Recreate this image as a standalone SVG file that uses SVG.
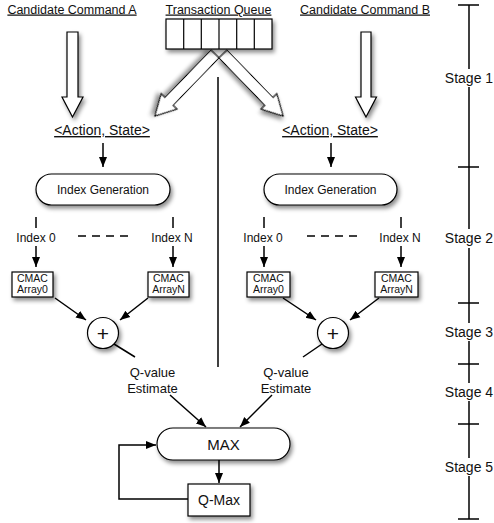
<svg xmlns="http://www.w3.org/2000/svg" width="494" height="523" viewBox="0 0 494 523">
<defs>
<filter id="sh" x="-30%" y="-30%" width="160%" height="160%">
<feDropShadow dx="2" dy="3" stdDeviation="2" flood-color="#000" flood-opacity="0.45"/>
</filter>
<marker id="ah" markerWidth="10" markerHeight="10" refX="10" refY="5" orient="auto" markerUnits="userSpaceOnUse">
<path d="M0,1 L10,5 L0,9 z" fill="#000"/>
</marker>
</defs>
<style>
text{font-family:"Liberation Sans",Arial,sans-serif;fill:#111}
.t{font-size:12.5px;text-decoration:underline}
.as{font-size:14px;text-decoration:underline}
.st{font-size:14px}
.ig{font-size:12px}
.ix{font-size:12px}
.cm{font-size:10.5px}
.qv{font-size:13px}
.pl{font-size:21px}
.shp{fill:#fff;stroke:#000;stroke-width:1.2;filter:url(#sh)}
.ln{stroke:#000;stroke-width:1.5;fill:none}
.ar{stroke:#000;stroke-width:1.5;fill:none;marker-end:url(#ah)}
</style>
<rect width="494" height="523" fill="#fff"/>

<g id="labels">
<text class="t" x="72" y="13.5" text-anchor="middle">Candidate Command A</text>
<text class="t" x="218.5" y="13.5" text-anchor="middle">Transaction Queue</text>
<text class="t" x="365" y="13.5" text-anchor="middle">Candidate Command B</text>
</g>

<g id="bigArrows">
<polygon class="shp" points="67,32 78,32 78,97 83,97 72.5,117 62,97 67,97"/>
<polygon class="shp" points="361,32 371,32 371,97 376.5,97 366,117 355.5,97 361,97"/>
<polygon class="shp" transform="translate(215,54) rotate(134.1)" points="0,-5.5 66,-5.5 66,-11 86.3,0 66,11 66,5.5 0,5.5"/>
<polygon class="shp" transform="translate(223,54) rotate(45.9)" points="0,-5.5 66,-5.5 66,-11 86.3,0 66,11 66,5.5 0,5.5"/>
</g>

<g id="queue">
<rect class="shp" x="166" y="19" width="106" height="30"/>
<g class="ln" style="stroke-width:1.2">
<line x1="183.7" y1="19" x2="183.7" y2="49"/>
<line x1="201.3" y1="19" x2="201.3" y2="49"/>
<line x1="219" y1="19" x2="219" y2="49"/>
<line x1="236.7" y1="19" x2="236.7" y2="49"/>
<line x1="254.3" y1="19" x2="254.3" y2="49"/>
</g>
</g>

<g id="actionA"><text class="as" x="102" y="135" text-anchor="middle">&lt;Action, State&gt;</text></g>
<g id="actionB"><text class="as" x="330" y="135" text-anchor="middle">&lt;Action, State&gt;</text></g>

<g id="indexGenA">
<rect class="shp" x="36" y="174" width="134" height="31" rx="15.5"/>
<text class="ig" x="103" y="194" text-anchor="middle">Index Generation</text>
</g>
<g id="indexGenB">
<rect class="shp" x="264" y="174" width="133" height="31" rx="15.5"/>
<text class="ig" x="330.5" y="194" text-anchor="middle">Index Generation</text>
</g>

<g id="indexLabels">
<text class="ix" x="36" y="242" text-anchor="middle">Index 0</text>
<text class="ix" x="172" y="242" text-anchor="middle">Index N</text>
<text class="ix" x="263" y="242" text-anchor="middle">Index 0</text>
<text class="ix" x="400" y="242" text-anchor="middle">Index N</text>
</g>

<g id="cmacA0"><rect class="shp" x="12" y="272" width="41" height="25"/>
<text class="cm" x="32.5" y="282" text-anchor="middle">CMAC</text><text class="cm" x="32.5" y="293" text-anchor="middle">Array0</text></g>
<g id="cmacAN"><rect class="shp" x="148" y="272" width="41" height="25"/>
<text class="cm" x="168.5" y="282" text-anchor="middle">CMAC</text><text class="cm" x="168.5" y="293" text-anchor="middle">ArrayN</text></g>
<g id="cmacB0"><rect class="shp" x="247" y="272" width="43" height="25"/>
<text class="cm" x="268.5" y="282" text-anchor="middle">CMAC</text><text class="cm" x="268.5" y="293" text-anchor="middle">Array0</text></g>
<g id="cmacBN"><rect class="shp" x="375" y="272" width="43" height="25"/>
<text class="cm" x="396.5" y="282" text-anchor="middle">CMAC</text><text class="cm" x="396.5" y="293" text-anchor="middle">ArrayN</text></g>

<g id="sumA"><circle class="shp" cx="103" cy="333" r="15.5"/>
<text class="pl" x="103" y="340.5" text-anchor="middle">+</text></g>
<g id="sumB"><circle class="shp" cx="333" cy="333" r="15.5"/>
<text class="pl" x="333" y="340.5" text-anchor="middle">+</text></g>

<g id="qvalA"><text class="qv" x="152.5" y="377" text-anchor="middle">Q-value</text><text class="qv" x="152.5" y="393" text-anchor="middle">Estimate</text></g>
<g id="qvalB"><text class="qv" x="286" y="377" text-anchor="middle">Q-value</text><text class="qv" x="286" y="393" text-anchor="middle">Estimate</text></g>

<g id="max">
<rect class="shp" x="157" y="428" width="133" height="32" rx="16"/>
<text x="223.5" y="449.5" text-anchor="middle" style="font-size:15px">MAX</text>
</g>
<g id="qmax">
<rect class="shp" x="188" y="484" width="62" height="32"/>
<text x="219" y="505" text-anchor="middle" style="font-size:14px">Q-Max</text>
</g>

<g id="connectors">
<line class="ln" x1="218" y1="77" x2="218" y2="367"/>
<line class="ar" x1="103" y1="143" x2="103" y2="167"/>
<line class="ar" x1="331" y1="143" x2="331" y2="167"/>
<line class="ln" x1="36" y1="217" x2="36" y2="228"/>
<line class="ln" x1="173" y1="217" x2="173" y2="228"/>
<line class="ln" x1="264" y1="217" x2="264" y2="228"/>
<line class="ln" x1="401" y1="217" x2="401" y2="228"/>
<line class="ar" x1="36" y1="246" x2="36" y2="267"/>
<line class="ar" x1="173" y1="246" x2="173" y2="267"/>
<line class="ar" x1="264" y1="246" x2="264" y2="267"/>
<line class="ar" x1="401" y1="246" x2="401" y2="267"/>
<line class="ln" x1="78" y1="236" x2="128" y2="236" stroke-dasharray="8,6"/>
<line class="ln" x1="307" y1="236" x2="357" y2="236" stroke-dasharray="8,6"/>
<line class="ar" x1="55" y1="298" x2="86" y2="320"/>
<line class="ar" x1="148" y1="298" x2="120" y2="320"/>
<line class="ar" x1="283" y1="298" x2="316" y2="320"/>
<line class="ar" x1="379" y1="298" x2="350" y2="320"/>
<line class="ln" x1="114" y1="344" x2="135" y2="357"/>
<line class="ln" x1="322" y1="344" x2="303" y2="357"/>
<line class="ar" x1="170" y1="395" x2="206" y2="427"/>
<line class="ar" x1="272" y1="395" x2="240" y2="427"/>
<line class="ar" x1="219" y1="460" x2="219" y2="483"/>
<polyline class="ar" points="188,499 119,499 119,445 156,445"/>
</g>

<g id="stages">
<g class="ln">
<line x1="469" y1="5" x2="469" y2="69"/>
<line x1="469" y1="87" x2="469" y2="229"/>
<line x1="469" y1="248" x2="469" y2="323"/>
<line x1="469" y1="341" x2="469" y2="383"/>
<line x1="469" y1="401" x2="469" y2="458"/>
<line x1="469" y1="476" x2="469" y2="519"/>
<line x1="458" y1="5" x2="479" y2="5"/>
<line x1="458" y1="167" x2="479" y2="167"/>
<line x1="458" y1="303" x2="479" y2="303"/>
<line x1="458" y1="364" x2="479" y2="364"/>
<line x1="458" y1="424" x2="479" y2="424"/>
<line x1="458" y1="519" x2="479" y2="519"/>
</g>
<text class="st" x="469" y="83" text-anchor="middle">Stage 1</text>
<text class="st" x="469" y="243" text-anchor="middle">Stage 2</text>
<text class="st" x="469" y="337" text-anchor="middle">Stage 3</text>
<text class="st" x="469" y="397" text-anchor="middle">Stage 4</text>
<text class="st" x="469" y="472" text-anchor="middle">Stage 5</text>
</g>
</svg>
